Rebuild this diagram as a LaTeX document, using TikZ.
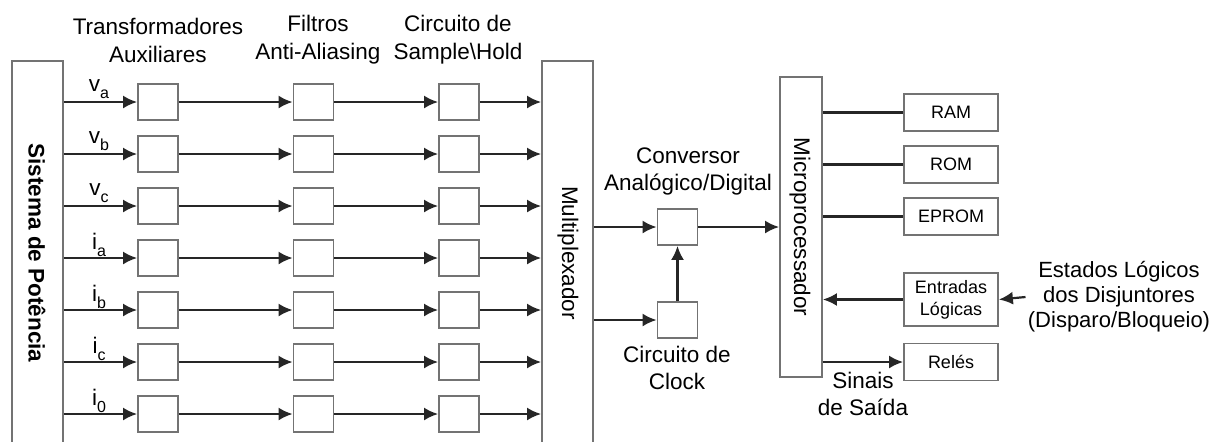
\documentclass[tikz,border=0pt]{standalone}
\usepackage{fontspec}
\setmainfont{Liberation Sans}
\usetikzlibrary{arrows.meta}

\tikzset{
	bloco/.style={draw=gray!90!black, line width=0.9pt, fill=white, minimum width=20pt, minimum height=18pt, inner sep=0pt},
	barra/.style={draw=gray!90!black, line width=0.9pt, inner sep=0pt},
	memoria/.style={bloco, minimum width=47pt, minimum height=18.5pt, font=\fontsize{9}{11}\selectfont, align=center},
	seta/.style={line width=1.1pt, draw=black!85, -{Latex[length=7pt,width=6.5pt]}},
	fio/.style={line width=1.1pt, draw=black!85},
	rotulo/.style={align=center, inner sep=1pt},
}
\newcommand{\sinal}[2]{#1\raisebox{-0.55ex}{\fontsize{8}{9}\selectfont #2}}

\begin{document}
\begin{tikzpicture}[x=0.5pt, y=-0.5pt, font=\fontsize{11.25}{13.5}\selectfont]
	\useasboundingbox (0,0) rectangle (1210,441);
	\clip (0,0) rectangle (1210,441);

	% barras verticais
	\node[barra, minimum width=25.5pt, minimum height=205pt] (sistema) at (37.5,266) {};
	\node[rotate=-90, font=\fontsize{11.25}{13.5}\selectfont\bfseries] (sistemaTxt) at (37,253) {Sistema de Potência};
	\node[barra, minimum width=25.5pt, minimum height=205pt] (mux) at (567.5,266) {};
	\node[rotate=-90] (muxTxt) at (568,253) {Multiplexador};
	\node[barra, minimum width=21pt, minimum height=150pt] (micro) at (801,227) {};
	\node[rotate=-90] (microTxt) at (800,227) {Microprocessador};

	% titulos das colunas
	\node[rotulo, font=\fontsize{11.25}{14}\selectfont] (hTrafo) at (158,40) {Transformadores\\Auxiliares};
	\node[rotulo, font=\fontsize{11.25}{14}\selectfont] (hFiltro) at (318,40) {Filtros\\Anti-Aliasing};
	\node[rotulo, font=\fontsize{11.25}{14}\selectfont] (hSH) at (458,40) {Circuito de\\Sample\textbackslash Hold};

	% canais de entrada
	\foreach \sig/\ind [count=\i] in {v/a,v/b,v/c,i/a,i/b,i/c,i/0}{
		\pgfmathsetmacro{\yy}{102+52*(\i-1)}
		\node[bloco] (ta\i) at (158,\yy) {};
		\node[bloco] (fa\i) at (313.5,\yy) {};
		\node[bloco] (sh\i) at (459,\yy) {};
		\node[rotulo] (rot\i) at (99,\yy-13) {\sinal{\sig}{\ind}};
		\draw[seta] (sistema.east |- ta\i.west) -- (ta\i.west);
		\draw[seta] (ta\i.east) -- (fa\i.west);
		\draw[seta] (fa\i.east) -- (sh\i.west);
		\draw[seta] (sh\i.east) -- (mux.west |- sh\i.east);
	}

	% conversor A/D e clock
	\node[bloco] (conv) at (677.5,227) {};
	\node[bloco] (clock) at (677.5,320) {};
	\node[rotulo] (convTxt) at (688,171) {Conversor\\Analógico/Digital};
	\node[rotulo] (clockTxt) at (677,368) {Circuito de\\Clock};
	\draw[seta] (mux.east |- conv.west) -- (conv.west);
	\draw[seta] (mux.east |- clock.west) -- (clock.west);
	\draw[seta] (clock.north) -- (conv.south);
	\draw[seta] (conv.east) -- (micro.west |- conv.east);

	% perifericos do microprocessador
	\node[memoria] (ram) at (951,112.5) {RAM};
	\node[memoria] (rom) at (951,164.5) {ROM};
	\node[memoria] (eprom) at (951,216.5) {EPROM};
	\node[memoria, minimum height=26.5pt] (entradas) at (951,299.5) {Entradas\\Lógicas};
	\node[memoria] (reles) at (951,362) {Relés};
	\draw[fio] (micro.east |- ram.west) -- (ram.west);
	\draw[fio] (micro.east |- rom.west) -- (rom.west);
	\draw[fio] (micro.east |- eprom.west) -- (eprom.west);
	\draw[seta] (entradas.west) -- (micro.east |- entradas.west);
	\draw[seta] (micro.east |- reles.west) -- (reles.west);

	\node[rotulo, font=\fontsize{11}{12.5}\selectfont] (estados) at (1119,297) {Estados Lógicos\\dos Disjuntores\\(Disparo/Bloqueio)};
	\draw[seta] (estados.west) -- (entradas.east);
	\node[rotulo] (saida) at (863,394) {Sinais\\de Saída};
\end{tikzpicture}
\end{document}
